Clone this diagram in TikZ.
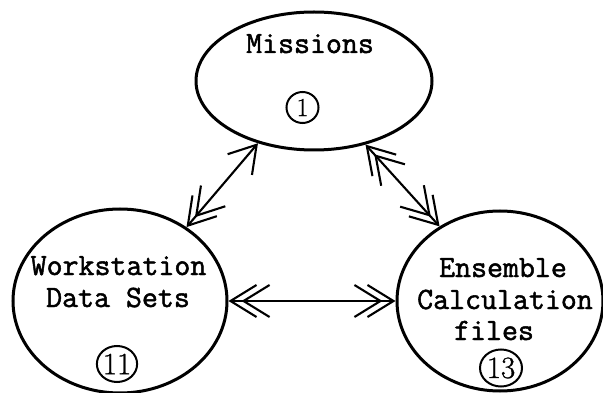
\documentclass[tikz,border=0pt]{standalone}
\usepackage{fontspec}
\usetikzlibrary{shapes.geometric,arrows.meta}

% heavier typewriter face for the store names
\newfontfamily\typer[FakeBold=1.6]{Latin Modern Mono}
\newfontfamily\numfont[FakeBold=1.0]{Latin Modern Roman}

\tikzset{
  store/.style={draw, ellipse, line width=3pt, inner sep=0pt},
  caption/.style={font=\typer\fontsize{31}{33}\selectfont, anchor=base, inner sep=0pt},
  tag/.style={draw, ellipse, line width=2pt, inner sep=0pt,
              font=\numfont\fontsize{31}{33}\selectfont},
  link/.style={line width=2.1pt},
  barb/.tip={Straight Barb[length=26pt,width=32pt,line width=2.1pt]},
  dbarb/.tip={Straight Barb[length=26pt,width=32pt,line width=2.1pt,sep=-16pt]
              Straight Barb[length=26pt,width=32pt,line width=2.1pt]},
}

\begin{document}
\begin{tikzpicture}[x=1pt, y=-1pt]
  \useasboundingbox (0,0) rectangle (603,393);

  % the three data stores
  \node[store, minimum width=236pt, minimum height=138pt] (mis) at (314,81) {};
  \node[store, minimum width=214pt, minimum height=184pt] (ws)  at (120,301) {};
  \node[store, minimum width=206pt, minimum height=180pt] (ens) at (500,301) {};

  % store names
  \node[caption] (misname) at (310,53)  {Missions};
  \node[caption] (wsname1) at (118.5,275) {Workstation};
  \node[caption] (wsname2) at (118,307) {Data Sets};
  \node[caption] (ensname1) at (503,277) {Ensemble};
  \node[caption] (ensname2) at (505,309) {Calculation};
  \node[caption] (ensname3) at (494,340) {files};

  % store numbers
  \node[tag, minimum width=32pt, minimum height=31pt,
        font=\numfont\fontsize{26}{28}\selectfont] (misnum) at (302.5,107.5) {1};
  \node[tag, minimum width=40pt, minimum height=36pt] (wsnum)  at (117,364) {11};
  \node[tag, minimum width=42pt, minimum height=37pt] (ensnum) at (501,368) {13};

  % data flows between the stores
  \draw[link, {barb}-{dbarb}]  (mis.228.5) -- (ws.48.7);
  \draw[link, {dbarb}-{dbarb}] (mis.309.9) -- (ens.129);
  \draw[link, {dbarb}-{dbarb}] (ws.east) -- (ens.west);
\end{tikzpicture}
\end{document}
